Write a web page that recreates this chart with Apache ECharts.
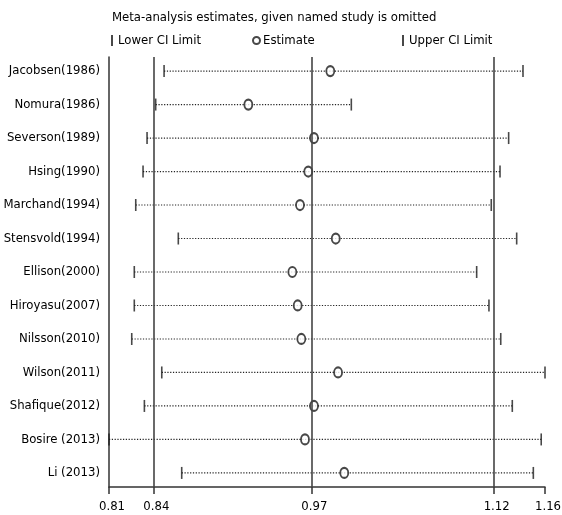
<!DOCTYPE html>
<html>
<head>
<meta charset="utf-8">
<script src="https://cdn.jsdelivr.net/npm/echarts@6/dist/echarts.min.js"></script>
<style>
html,body{margin:0;padding:0;background:#fff;}
#chart{width:562px;height:515px;}
</style>
</head>
<body>
<div id="chart"></div>
<script>
// ---- data ----
var studies = ["Jacobsen(1986)","Nomura(1986)","Severson(1989)","Hsing(1990)","Marchand(1994)","Stensvold(1994)","Ellison(2000)","Hiroyasu(2007)","Nilsson(2010)","Wilson(2011)","Shafique(2012)","Bosire (2013)","Li (2013)"];
var lowerCI  = [0.8489,0.8420,0.8349,0.8316,0.8256,0.8606,0.8244,0.8244,0.8223,0.8470,0.8327,0.8036,0.8634];
var estimate = [0.9856,0.9182,0.9722,0.9675,0.9607,0.9901,0.9544,0.9588,0.9618,0.9920,0.9722,0.9648,0.9971];
var upperCI  = [1.1441,1.0029,1.1323,1.1252,1.1180,1.1389,1.1060,1.1161,1.1258,1.1622,1.1353,1.1591,1.1526];
var tickValues = [0.8036,0.8401,0.97,1.12,1.1622];
var tickLabels = ["0.81","0.84","0.97","1.12","1.16"];
var refLines = [0.8401,0.97,1.12];
var titleText = "Meta-analysis estimates, given named study is omitted";

var FONT = "'Liberation Sans Narrow','Arial Narrow','DejaVu Sans Condensed',sans-serif";
var FS = 13;
var INK = '#000';

var rows = studies.map(function(s,i){return i+1;});
var ciData = studies.map(function(s,i){return [lowerCI[i], upperCI[i], i+1];});

var chart = echarts.init(document.getElementById('chart'), null, {renderer:'canvas'});
chart.setOption({
  animation:false,
  backgroundColor:'#fff',
  title:{text:titleText,left:112,top:11,padding:0,textStyle:{fontFamily:FONT,fontSize:FS,fontWeight:'normal',color:INK}},
  legend:[
    {data:['Lower CI Limit'],left:111,top:34,padding:0,itemWidth:2,itemHeight:11,textStyle:{fontFamily:FONT,fontSize:FS,color:INK},selectedMode:false},
    {data:['Estimate'],left:252,top:34,padding:0,itemWidth:7,itemHeight:8,textStyle:{fontFamily:FONT,fontSize:FS,color:INK,padding:[0,0,0,-2]},selectedMode:false},
    {data:['Upper CI Limit'],left:402,top:34,padding:0,itemWidth:2,itemHeight:11,textStyle:{fontFamily:FONT,fontSize:FS,color:INK},selectedMode:false}
  ],
  grid:{left:109,right:17,top:57,bottom:28,containLabel:false,outerBoundsMode:'none'},
  xAxis:{
    type:'value',min:tickValues[0],max:tickValues[tickValues.length-1],
    axisLine:{show:true,lineStyle:{color:'#333',width:1.5}},
    axisTick:{show:true,customValues:tickValues,length:7,lineStyle:{color:'#333',width:1.5}},
    axisLabel:{customValues:tickValues,margin:13,padding:[0,0,0,6],fontFamily:FONT,fontSize:FS,color:INK,
      formatter:function(v){var b=0,d=1e9;tickValues.forEach(function(t,i){if(Math.abs(t-v)<d){d=Math.abs(t-v);b=i;}});return tickLabels[b];}},
    splitLine:{show:false}
  },
  yAxis:{
    type:'value',inverse:true,min:0.58,max:13.42,
    axisLine:{show:true,lineStyle:{color:'#333',width:1.5}},
    axisTick:{show:false},
    axisLabel:{customValues:rows,margin:9,fontFamily:FONT,fontSize:FS,color:INK,
      formatter:function(v){return studies[Math.round(v)-1]||'';}},
    splitLine:{show:false}
  },
  series:[
    {
      type:'custom',name:'ci',silent:true,z:1,
      data:ciData,
      renderItem:function(params,api){
        var a=api.coord([api.value(0),api.value(2)]);
        var b=api.coord([api.value(1),api.value(2)]);
        return {type:'line',shape:{x1:a[0],y1:a[1],x2:b[0],y2:b[1]},
          style:{stroke:'#222',lineWidth:1.2,lineDash:[1.2,1.6]}};
      },
      markLine:{silent:true,symbol:['none','none'],label:{show:false},
        lineStyle:{color:'#444',width:1.6,type:'solid'},
        data:refLines.map(function(v){return {xAxis:v};})}
    },
    {type:'scatter',name:'Lower CI Limit',symbol:'rect',symbolSize:[1.6,12],z:3,
      itemStyle:{color:'#1a1a1a'},data:lowerCI.map(function(v,i){return [v,i+1];})},
    {type:'scatter',name:'Estimate',symbol:'emptyCircle',symbolSize:[8,10],z:4,
      itemStyle:{color:'#1a1a1a',borderColor:'#1a1a1a',borderWidth:1.6},data:estimate.map(function(v,i){return [v,i+1];})},
    {type:'scatter',name:'Upper CI Limit',symbol:'rect',symbolSize:[1.6,12],z:3,
      itemStyle:{color:'#1a1a1a'},data:upperCI.map(function(v,i){return [v,i+1];})}
  ]
});
</script>
</body>
</html>
